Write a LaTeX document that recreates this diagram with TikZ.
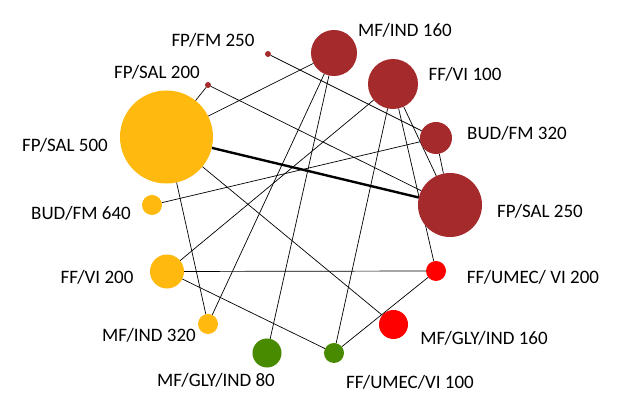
\documentclass[tikz,border=0pt]{standalone}
\usepackage{fontspec}
\setmainfont{Carlito}
\usepackage{tikz}
\usetikzlibrary{backgrounds}
\definecolor{DR}{RGB}{165,42,44}
\definecolor{GO}{RGB}{255,185,15}
\definecolor{RD}{RGB}{255,0,0}
\definecolor{GR}{RGB}{72,138,0}
\tikzset{
  trt/.style={circle,inner sep=0pt,outer sep=0pt,draw=none},
  trtlabel/.style={inner sep=0pt,font=\fontsize{13.5}{16}\selectfont},
  cmp/.style={line width=0.5pt,black},
  cmpthick/.style={line width=1.7pt,black}
}
% name, x, y (pixels), radius (pixels), colour
\newcommand{\trtcircle}[5]{\node[trt,fill=#5,minimum size=#4*0.05cm] (#1) at (#2,#3) {};}

\begin{document}
\begin{tikzpicture}[x=0.025cm,y=-0.025cm]
\useasboundingbox (0,0) rectangle (634,419);
\trtcircle{fpsal500}{166.5}{137}{46.5}{GO}
\trtcircle{fpsal200}{208}{85}{3}{DR}
\trtcircle{fpfm250}{268}{54}{3}{DR}
\trtcircle{mfind160}{334}{53}{23}{DR}
\trtcircle{ffvi100}{393}{84}{25}{DR}
\trtcircle{budfm320}{436}{138}{16}{DR}
\trtcircle{fpsal250}{450}{205}{32}{DR}
\trtcircle{ffumecvi200}{436}{271}{10}{RD}
\trtcircle{mfglyind160}{393.5}{324.5}{14.5}{RD}
\trtcircle{ffumecvi100}{334}{353}{10}{GR}
\trtcircle{mfglyind80}{267}{353}{14.5}{GR}
\trtcircle{mfind320}{208}{324}{10}{GO}
\trtcircle{ffvi200}{167}{271.5}{17}{GO}
\trtcircle{budfm640}{152}{205}{10}{GO}
% labels
\node[trtlabel] (l-fpsal500) at (65,145) {FP/SAL 500};
\node[trtlabel] (l-fpsal200) at (157,72) {FP/SAL 200};
\node[trtlabel] (l-fpfm250) at (213,40) {FP/FM 250};
\node[trtlabel] (l-mfind160) at (405,30) {MF/IND 160};
\node[trtlabel] (l-ffvi100) at (465,74) {FF/VI 100};
\node[trtlabel] (l-budfm320) at (517,133) {BUD/FM 320};
\node[trtlabel] (l-fpsal250) at (540,211) {FP/SAL 250};
\node[trtlabel] (l-ffumecvi200) at (533,277) {FF/UMEC/ VI 200};
\node[trtlabel] (l-mfglyind160) at (484,338) {MF/GLY/IND 160};
\node[trtlabel] (l-ffumecvi100) at (410,382) {FF/UMEC/VI 100};
\node[trtlabel] (l-mfglyind80) at (216,380) {MF/GLY/IND 80};
\node[trtlabel] (l-mfind320) at (149,335) {MF/IND 320};
\node[trtlabel] (l-ffvi200) at (97,277) {FF/VI 200};
\node[trtlabel] (l-budfm640) at (81,213) {BUD/FM 640};
% comparisons
\begin{scope}[on background layer]
\foreach \a/\b in {fpsal200/fpsal500,fpsal200/fpsal250,fpfm250/budfm320,
    mfind160/fpsal500,fpsal500/mfglyind160,fpsal500/mfind320,
    budfm640/budfm320,ffvi200/ffvi100,ffvi200/ffumecvi200,
    ffvi200/ffumecvi100,mfind320/mfind160,mfglyind80/mfind160,
    ffumecvi100/ffvi100,ffumecvi100/ffumecvi200,ffumecvi200/ffvi100,
    ffvi100/fpsal250,budfm320/fpsal250}{
  \draw[cmp] (\a) -- (\b);
}
\draw[cmpthick] (fpsal500) -- (fpsal250);
\end{scope}
\end{tikzpicture}
\end{document}
